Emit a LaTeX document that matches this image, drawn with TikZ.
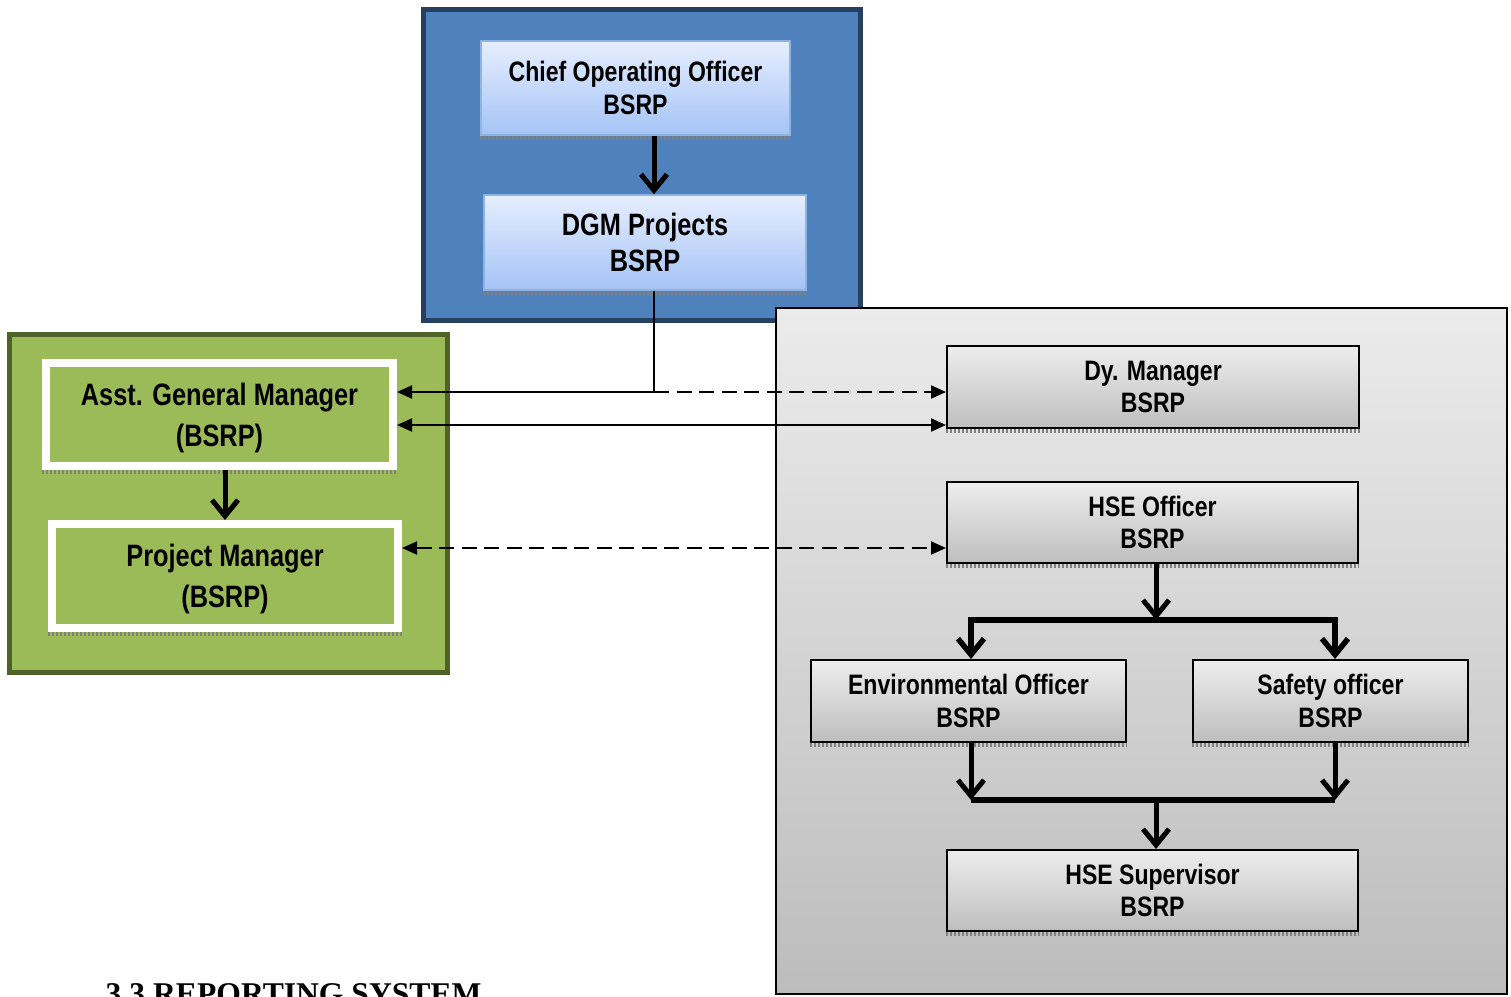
\documentclass[tikz,border=0pt]{standalone}
\usepackage{fontspec}
\newfontfamily\orgfont{Liberation Sans}[FakeStretch=0.82]
\newfontfamily\capfont{Liberation Serif}
\usetikzlibrary{arrows.meta}

\definecolor{panelblue}{HTML}{4F81BD}
\definecolor{panelblueline}{HTML}{254061}
\definecolor{panelgreen}{HTML}{9BBB59}
\definecolor{panelgreenline}{HTML}{4F6228}
\definecolor{panelgraytop}{HTML}{EBEBEB}
\definecolor{panelgraybot}{HTML}{BCBCBC}
\definecolor{boxbluetop}{HTML}{E6EEFF}
\definecolor{boxbluebot}{HTML}{A4C3F5}
\definecolor{boxblueline}{HTML}{8EB4E3}
\definecolor{boxgraytop}{HTML}{EDEDED}
\definecolor{boxgraybot}{HTML}{BEBEBE}

\tikzset{
  barb/.tip={Straight Barb[length=1.6mm,width=2.6mm]},
  tri/.tip={Triangle[length=1.5mm,width=1.3mm]},
  bluebox/.style={draw=boxblueline, line width=0.15mm, top color=boxbluetop, bottom color=boxbluebot,
    align=center, inner sep=0pt, font=\orgfont\bfseries\fontsize{8}{9.4}\selectfont},
  greenbox/.style={draw=white, line width=0.8mm, fill=panelgreen, text depth=-0.8mm,
    align=center, inner sep=0pt, font=\orgfont\bfseries\fontsize{8.8}{11.7}\selectfont},
  graybox/.style={draw=black, line width=0.2mm, top color=boxgraytop, bottom color=boxgraybot,
    align=center, inner sep=0pt, font=\orgfont\bfseries\fontsize{8}{9.2}\selectfont},
  band/.style={gray, line width=0.35mm, dash pattern=on 0.2mm off 0.2mm},
  link/.style={black, line width=0.2mm},
  flow/.style={black, line width=0.5mm, -barb},
  bus/.style={black, line width=0.55mm}
}

\begin{document}
\begin{tikzpicture}[x=1mm,y=-1mm]
\useasboundingbox (0,0) rectangle (151.1,99.6);

% panels
\draw[panelblueline, fill=panelblue, line width=0.5mm] (42.35,0.95) rectangle (86.05,32.05);
\draw[black, line width=0.2mm, top color=panelgraytop, bottom color=panelgraybot] (77.6,30.8) rectangle (150.7,99.4);
\draw[panelgreenline, fill=panelgreen, line width=0.5mm] (0.95,33.45) rectangle (44.75,67.25);

% boxes
\node[bluebox, minimum width=30.9mm, minimum height=9.4mm] (coo) at (63.55,8.8) {Chief Operating Officer\\BSRP};
\node[bluebox, font=\orgfont\bfseries\fontsize{8.8}{10}\selectfont, minimum width=32.2mm, minimum height=9.5mm] (dgm) at (64.5,24.25) {DGM Projects\\BSRP};
\node[greenbox, minimum width=34.7mm, minimum height=10.3mm] (agm) at (21.95,41.45) {Asst. General Manager\\(BSRP)};
\node[greenbox, minimum width=34.6mm, minimum height=10.4mm] (pm) at (22.5,57.6) {Project Manager\\(BSRP)};
\node[graybox, minimum width=41.2mm, minimum height=8.2mm] (dym) at (115.3,38.7) {Dy. Manager\\BSRP};
\node[graybox, minimum width=41.1mm, minimum height=8.1mm] (hseo) at (115.25,52.25) {HSE Officer\\BSRP};
\node[graybox, minimum width=31.5mm, minimum height=8.2mm] (envo) at (96.85,70.1) {Environmental Officer\\BSRP};
\node[graybox, minimum width=27.5mm, minimum height=8.2mm] (safo) at (133.05,70.1) {Safety officer\\BSRP};
\node[graybox, minimum width=41.1mm, minimum height=8.1mm] (hses) at (115.25,89.05) {HSE Supervisor\\BSRP};

\foreach \n in {coo,dgm,agm,pm,dym,hseo,envo,safo,hses}
  \draw[band] ([yshift=-0.2mm]\n.south west) -- ([yshift=-0.2mm]\n.south east);

% reporting lines
\coordinate (tap) at (65.4,39.2);
\coordinate (low) at (65.4,42.5);
\coordinate (pmrow) at (65.4,54.8);
\draw[link] (dgm.south -| tap) -- (tap);
\draw[link,-tri] (tap) -- (tap -| agm.east);
\draw[link,-tri,dash pattern=on 1.5mm off 0.75mm] (tap) -- (tap -| dym.west);
\draw[link,tri-tri] (low -| agm.east) -- (low -| dym.west);
\draw[link,tri-tri,dash pattern=on 1.5mm off 0.75mm] (pmrow -| pm.east) -- (pmrow -| hseo.west);

\draw[flow] (coo.south -| tap) -- (dgm.north -| tap);
\draw[flow] (agm.south -| pm.north) -- (pm.north);

% HSE chain
\coordinate (splitL) at (97.1,62);
\coordinate (splitM) at (115.6,62);
\coordinate (splitR) at (133.5,62);
\coordinate (joinL) at (97.1,80);
\coordinate (joinM) at (115.6,80);
\coordinate (joinR) at (133.5,80);
\draw[flow] (hseo.south -| splitM) -- (splitM);
\draw[bus,barb-barb] (envo.north -| splitL) -- (splitL) -- (splitR) -- (safo.north -| splitR);
\draw[flow] (envo.south -| joinL) -- (joinL);
\draw[flow] (safo.south -| joinR) -- (joinR);
\draw[bus] (joinL) -- (joinR);
\draw[flow] (joinM) -- (joinM |- hses.north);

\node[font=\capfont\bfseries\fontsize{9}{11}\selectfont, anchor=base west, inner sep=0pt] (title) at (10.5,100.4) {3.3 REPORTING SYSTEM};
\end{tikzpicture}
\end{document}
